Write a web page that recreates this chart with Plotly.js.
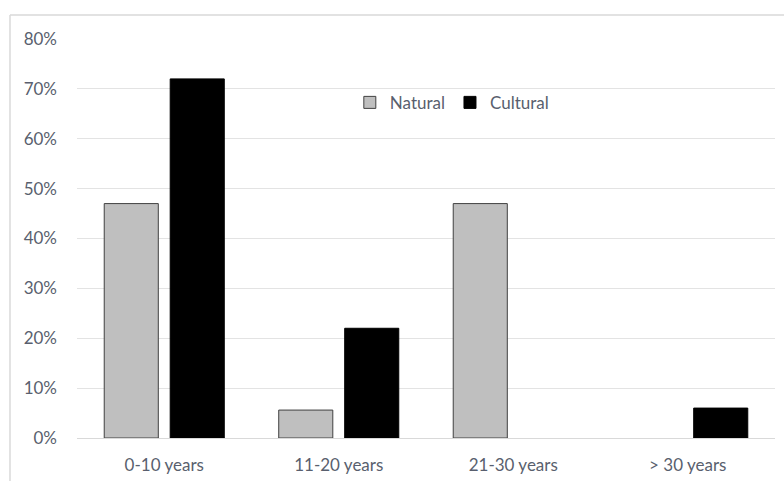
<!DOCTYPE html>
<html><head><meta charset="utf-8">
<script src="https://cdn.plot.ly/plotly-3.0.1.min.js"></script>
<style>body{margin:0;padding:0;background:#fff}#chart{width:784px;height:481px}</style>
</head><body><div id="chart"></div>
<script>
const categories = ["0-10 years", "11-20 years", "21-30 years", "> 30 years"];
const naturalValues = [0.47, 0.056, 0.47, null];
const culturalValues = [0.72, 0.22, null, 0.06];
const yTicks = [0, 0.1, 0.2, 0.3, 0.4, 0.5, 0.6, 0.7, 0.8];
const yTickLabels = ["0%", "10%", "20%", "30%", "40%", "50%", "60%", "70%", "80%"];

const fontFam = "Lato, 'Open Sans', sans-serif";
const textCol = "#595F6E";

const traces = [
  {type: "bar", name: "Natural", x: categories, y: naturalValues,
   marker: {color: "#BFBFBF", line: {color: "#404040", width: 1}}},
  {type: "bar", name: "Cultural", x: categories, y: culturalValues,
   marker: {color: "#000000", line: {color: "#000000", width: 1}}}
];

const layout = {
  width: 784, height: 481,
  paper_bgcolor: "#fff", plot_bgcolor: "#fff",
  margin: {l: 77, r: 9, t: 39, b: 43},
  barmode: "group", bargap: 0.244, bargroupgap: 0.18,
  showlegend: true,
  legend: {orientation: "h", x: 0.537, xanchor: "center", y: 0.84, yanchor: "middle",
           font: {family: fontFam, size: 17, color: textCol}, bgcolor: "rgba(0,0,0,0)",
           itemwidth: 30, traceorder: "normal"},
  font: {family: fontFam, size: 17, color: textCol},
  xaxis: {type: "category", showgrid: false, showline: true, linecolor: "#D9D9D9", linewidth: 1,
          ticks: "", ticklabelstandoff: 12, tickfont: {family: fontFam, size: 17, color: textCol},
          fixedrange: true},
  yaxis: {range: [0, 0.8], tickvals: yTicks, ticktext: yTickLabels, showgrid: true,
          gridcolor: "#E3E3E3", gridwidth: 1, zeroline: false, showline: false, ticks: "",
          ticklabelstandoff: 19, tickfont: {family: fontFam, size: 17, color: textCol},
          fixedrange: true},
  shapes: [
    {type: "line", xref: "paper", yref: "paper", x0: -0.096, x1: 1.02, y0: 1.06, y1: 1.06,
     line: {color: "#D9D9D9", width: 1.5}},
    {type: "line", xref: "paper", yref: "paper", x0: -0.096, x1: -0.096, y0: 1.06, y1: -0.2,
     line: {color: "#D9D9D9", width: 1.5}}
  ]
};

Plotly.newPlot("chart", traces, layout, {displayModeBar: false, staticPlot: true});
</script></body></html>
